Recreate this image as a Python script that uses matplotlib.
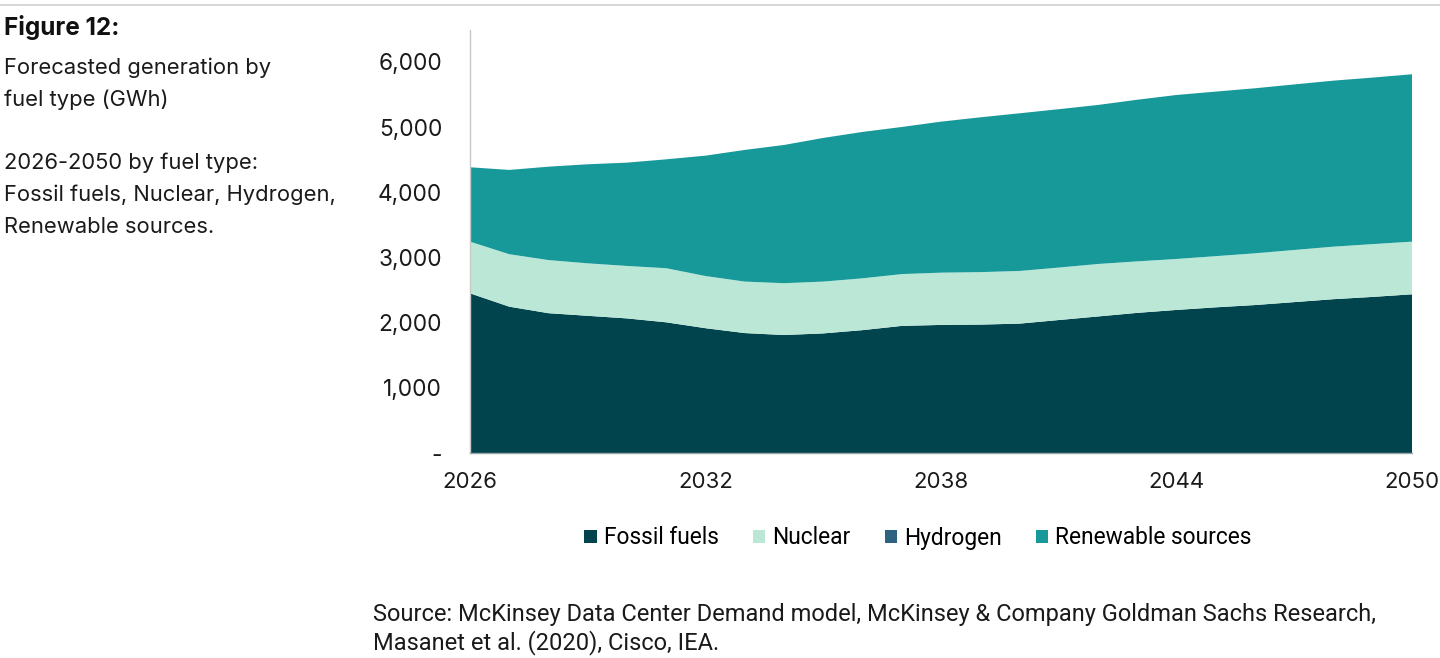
import matplotlib
matplotlib.use("Agg")
import matplotlib.pyplot as plt
from matplotlib.lines import Line2D
from matplotlib.patches import Patch

years = list(range(2026, 2051))
fossil = [2450, 2245, 2145, 2105, 2065, 2005, 1915, 1840, 1810, 1835, 1885, 1950, 1965,
          1970, 1985, 2040, 2095, 2150, 2195, 2235, 2270, 2315, 2360, 2395, 2435]
nuclear = [793, 805, 815, 805, 805, 830, 800, 790, 795, 795, 795, 795, 802,
           805, 808, 805, 805, 790, 782, 785, 794, 800, 806, 810, 808]
hydrogen = [0] * 25
renewables = [1141, 1293, 1433, 1520, 1585, 1671, 1847, 2020, 2121, 2204, 2246, 2257, 2317,
              2375, 2419, 2430, 2440, 2480, 2516, 2525, 2532, 2540, 2547, 2555, 2568]
series_names = ["Fossil fuels", "Nuclear", "Hydrogen", "Renewable sources"]
colors = ["#01444E", "#BBE8D6", "#2D6380", "#17999A"]
xticks = [2026, 2032, 2038, 2044, 2050]
yticks = [0, 1000, 2000, 3000, 4000, 5000, 6000]
ytick_labels = ["-", "1,000", "2,000", "3,000", "4,000", "5,000", "6,000"]

fig = plt.figure(figsize=(14.4, 6.58), dpi=100)
ax = fig.add_axes([470/1440, 1-453/658, (1412-470)/1440, (453-30)/658])

ax.stackplot(years, fossil, nuclear, hydrogen, renewables, colors=colors,
             linewidth=0, edgecolor="none")
ax.set_xlim(2026, 2050)
ax.set_ylim(0, 6490)
ax.set_xticks(xticks)
ax.set_xticklabels([str(x) for x in xticks], fontsize=16, family="Inter", color="#1a1a1a")
ax.set_yticks(yticks)
ax.set_yticklabels(ytick_labels, fontsize=16.3, family="Inter", color="#1a1a1a")
ax.tick_params(axis="y", length=0, pad=20)
ax.tick_params(axis="x", length=0, pad=14)
for s in ["top", "right"]:
    ax.spines[s].set_visible(False)
ax.spines["left"].set_color("#c8c8c8")
ax.spines["bottom"].set_color("#9aa5aa")
ax.spines["left"].set_linewidth(1.0)
ax.spines["bottom"].set_linewidth(1.0)

handles = [Patch(facecolor=c, edgecolor="none") for c in colors]
fig.legend(handles, series_names, loc="center", bbox_to_anchor=(918/1440, 1-538/658),
           ncol=4, frameon=False, prop={"family": "Roboto", "size": 16.4},
           handlelength=0.55, handleheight=0.55, handletextpad=0.3, columnspacing=1.5)

fig.add_artist(Line2D([0, 1], [1-5/658, 1-5/658], color="#d0d0d0", linewidth=1.2))

fig.text(4/1440, 1-28/658, "Figure 12:", fontsize=17.5, fontweight="bold", family="Inter",
         va="center", ha="left", color="#111111")
left_lines = [("Forecasted generation by", 68), ("fuel type (GWh)", 100),
              ("2026-2050 by fuel type:", 163), ("Fossil fuels, Nuclear, Hydrogen,", 195),
              ("Renewable sources.", 227)]
for txt, ypx in left_lines:
    fig.text(4/1440, 1-ypx/658, txt, fontsize=15.8, family="Inter", va="center",
             ha="left", color="#1a1a1a")
fig.text(373/1440, 1-615/658, "Source: McKinsey Data Center Demand model, McKinsey & Company Goldman Sachs Research,",
         fontsize=17, family="Roboto", va="center", ha="left", color="#1a1a1a")
fig.text(373/1440, 1-643/658, "Masanet et al. (2020), Cisco, IEA.",
         fontsize=17, family="Roboto", va="center", ha="left", color="#1a1a1a")

fig.savefig("out.png", dpi=100)
